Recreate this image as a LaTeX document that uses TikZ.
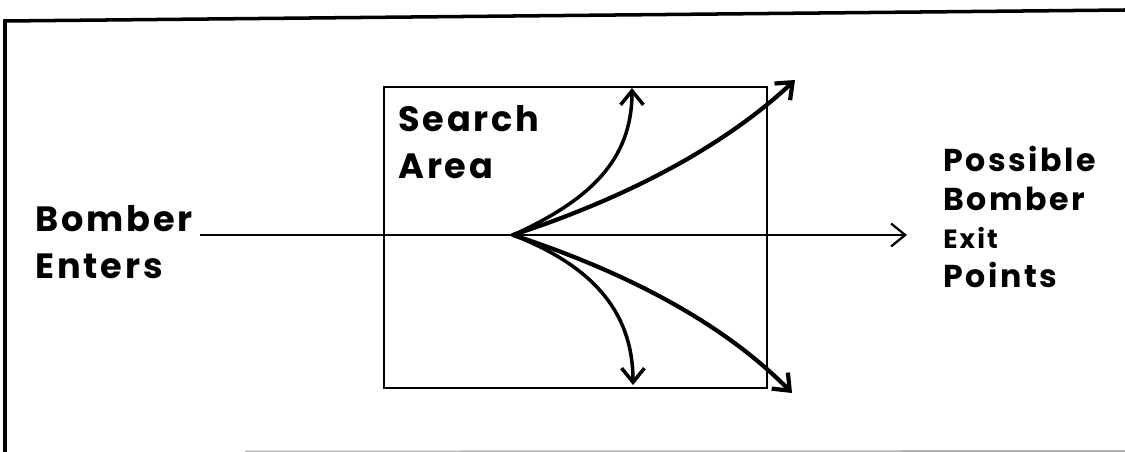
\documentclass[tikz,border=0pt]{standalone}
\usepackage{fontspec}
\newfontfamily\handfont[LetterSpace=8]{Poppins}
\usetikzlibrary{arrows.meta}

\begin{document}
\begin{tikzpicture}[x=0.02cm,y=-0.02cm,>={Straight Barb[length=8pt,width=13pt]},
  hand/.style={font=\handfont\bfseries\fontsize{20}{27}\selectfont,align=left,inner sep=0pt,anchor=north west},
  route/.style={->,line width=2.4pt,line cap=round}]
  \useasboundingbox (0,0) rectangle (1125,452);
  % outer frame
  \draw[line width=2pt] (5,452) -- (5,21) -- (1125,10);
  \draw[gray!60,line width=1pt] (245,451.5) -- (1125,451);
  % search area
  \node[draw,line width=1.2pt,minimum width=7.66cm,minimum height=6.02cm,anchor=north west] (area) at (383,86) {};
  \node[hand] (search) at (398,105) {Search\\Area};
  \node[hand] (enters) at (35,205) {Bomber\\Enters};
  \node[hand,font=\handfont\bfseries\fontsize{18}{22}\selectfont] (exits) at (943,146)
  {Possible\\Bomber\\{\fontsize{15}{22}\selectfont Exit}\\Points};
  \coordinate (entry) at (200,235);
  \coordinate (fan) at (513,235);
  \coordinate (straight) at (907,235);
  \coordinate (up1) at (632,88);
  \coordinate (up2) at (795,80);
  \coordinate (dn2) at (792,393);
  \coordinate (dn1) at (633,385);
  % paths
  \draw[->,line width=1.3pt] (entry) -- (straight);
  \draw[route,line width=2pt] (fan) .. controls (590,200) and (632,160) .. (up1);
  \draw[route] (fan) .. controls (620,200) and (720,150) .. (up2);
  \draw[route] (fan) .. controls (620,270) and (720,320) .. (dn2);
  \draw[route,line width=2pt] (fan) .. controls (590,265) and (633,310) .. (dn1);
\end{tikzpicture}
\end{document}
